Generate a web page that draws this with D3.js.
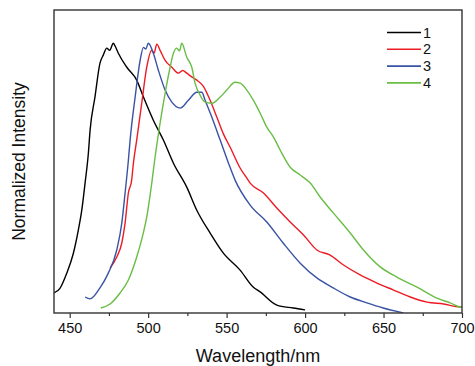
<!DOCTYPE html>
<html>
<head>
<meta charset="utf-8">
<script src="https://cdn.jsdelivr.net/npm/d3@7"></script>
<style>
  body { margin: 0; background: #fff; }
  svg { font-family: "Liberation Sans", Arial, sans-serif; }
</style>
</head>
<body>
<svg id="chart" width="475" height="366"></svg>
<script>
// wavelength (nm), normalized intensity
const series1 = [[440,0.067],[443.8,0.084],[448.1,0.14],[452.3,0.214],[455.5,0.301],[457.7,0.375],[459.8,0.476],[461.9,0.587],[463,0.673],[466.1,0.796],[469.3,0.922],[471.4,0.952],[473.6,0.978],[475.5,0.97],[477.8,0.996],[479,0.985],[481,0.959],[486.4,0.907],[492.7,0.859],[497,0.796],[503.3,0.71],[509.7,0.636],[516.1,0.55],[524.6,0.461],[531,0.375],[539.5,0.29],[547.8,0.216],[558.6,0.152],[566.9,0.089],[571.4,0.071],[582,0.022],[592.4,0.011],[600,0.004]];
const series2 = [[475.7,0.16],[480,0.201],[483.2,0.253],[485.3,0.327],[487.4,0.439],[489.5,0.487],[490.6,0.55],[492.7,0.636],[495.9,0.773],[499.1,0.907],[502.3,0.97],[503.8,0.96],[505.5,0.993],[507.6,0.97],[510.8,0.933],[515.1,0.907],[519.3,0.885],[522,0.895],[524.6,0.885],[528,0.87],[531,0.859],[535.2,0.836],[539.5,0.784],[543.8,0.721],[548,0.658],[552.2,0.61],[558.6,0.532],[562.9,0.494],[565,0.476],[573.5,0.439],[582,0.383],[590.5,0.331],[599,0.283],[607.5,0.227],[616,0.208],[624.5,0.171],[635.1,0.134],[645.8,0.104],[656.4,0.078],[667,0.052],[677.7,0.033],[688.3,0.026],[698.9,0.015],[700,0.016]];
const series3 = [[459.8,0.052],[463,0.045],[469.3,0.086],[474.6,0.141],[480,0.227],[483.2,0.327],[485.3,0.439],[487.4,0.561],[488.5,0.636],[491.7,0.796],[494.9,0.933],[497,0.981],[498.5,0.975],[500.1,0.996],[503.3,0.959],[506.5,0.896],[510.8,0.822],[515.1,0.777],[520.4,0.755],[525.6,0.784],[531,0.814],[534.2,0.814],[536.3,0.784],[540.6,0.721],[545.9,0.636],[551.2,0.55],[555.4,0.487],[565,0.394],[575.6,0.331],[586,0.253],[596.9,0.178],[607.5,0.123],[617.9,0.086],[628.8,0.052],[639.4,0.03],[649.8,0.011],[662.6,-0.007]];
const series4 = [[469.8,0.011],[475.7,0.026],[482.1,0.067],[487.4,0.115],[492.7,0.201],[496.9,0.29],[499.1,0.349],[502.3,0.476],[504.4,0.572],[507.6,0.699],[510.8,0.81],[514,0.907],[516.1,0.959],[518.2,0.978],[520,0.968],[521.4,0.996],[524.6,0.944],[527.8,0.907],[529.9,0.848],[533.1,0.803],[536.3,0.777],[540.6,0.773],[545.9,0.796],[550.1,0.822],[555.4,0.851],[558.6,0.848],[562.9,0.822],[567.1,0.784],[571.4,0.736],[575.6,0.684],[579.9,0.647],[584.1,0.599],[590.5,0.535],[596.9,0.506],[603.3,0.476],[609.6,0.424],[618.1,0.364],[628.8,0.29],[637.2,0.227],[647.9,0.164],[658.5,0.126],[671.3,0.089],[684,0.048],[692.5,0.03],[698.9,0.015],[700,0.014]];

const seriesNames = ["1", "2", "3", "4"];
const seriesData = [series1, series2, series3, series4];
const colors = ["#000000", "#ed1c24", "#3953a4", "#6abd45"];
const xTicks = [450, 500, 550, 600, 650, 700];
const xMinorTicks = [475, 525, 575, 625, 675];

const margin = {left: 54, top: 10, right: 13, bottom: 53};
const width = 475, height = 366;

const svg = d3.select('#chart');

const x = d3.scaleLinear()
  .domain([440, 700])
  .range([margin.left, width - margin.right]);

const y = d3.scaleLinear()
  .domain([-0.0075, 1.12])
  .range([height - margin.bottom, margin.top]);

svg.append('clipPath').attr('id', 'plot-clip')
  .append('rect')
  .attr('x', margin.left).attr('y', margin.top)
  .attr('width', x.range()[1] - margin.left)
  .attr('height', y.range()[0] - margin.top);

const line = d3.line()
  .curve(d3.curveMonotoneX)
  .x(d => x(d[0]))
  .y(d => y(d[1]));

// curves
svg.append('g')
  .attr('clip-path', 'url(#plot-clip)')
  .selectAll('path')
  .data(seriesData)
  .enter().append('path')
  .attr('fill', 'none')
  .attr('stroke', (d, i) => colors[i])
  .attr('stroke-width', 1.4)
  .attr('stroke-linejoin', 'round')
  .attr('d', line);

// frame
svg.append('rect')
  .attr('x', margin.left).attr('y', margin.top)
  .attr('width', x.range()[1] - margin.left)
  .attr('height', y.range()[0] - margin.top)
  .attr('fill', 'none')
  .attr('stroke', '#333')
  .attr('stroke-width', 1.4);

// x axis
const xAxis = svg.append('g')
  .attr('transform', `translate(0,${y.range()[0]})`)
  .call(d3.axisBottom(x).tickValues(xTicks).tickSize(5).tickPadding(5).tickFormat(d3.format('d')));
xAxis.select('.domain').remove();
xAxis.selectAll('.tick line').attr('stroke', '#333').attr('stroke-width', 1.2);
xAxis.selectAll('.tick text').attr('font-size', 14.5).attr('fill', '#111')
  .attr('font-family', '"Liberation Sans", Arial, sans-serif');

const xMinor = svg.append('g')
  .attr('transform', `translate(0,${y.range()[0]})`)
  .call(d3.axisBottom(x).tickValues(xMinorTicks).tickSize(3).tickFormat(''));
xMinor.select('.domain').remove();
xMinor.selectAll('.tick line').attr('stroke', '#333').attr('stroke-width', 1.2);

// axis titles
svg.append('text')
  .attr('x', (x.range()[0] + x.range()[1]) / 2)
  .attr('y', 362)
  .attr('text-anchor', 'middle')
  .attr('font-size', 18)
  .attr('fill', '#111')
  .text('Wavelength/nm');

svg.append('text')
  .attr('transform', `translate(25,${(y.range()[0] + y.range()[1]) / 2}) rotate(-90)`)
  .attr('text-anchor', 'middle')
  .attr('font-size', 17.5)
  .attr('fill', '#111')
  .text('Normalized Intensity');

// legend
const legend = svg.append('g')
  .selectAll('g')
  .data(seriesNames)
  .enter().append('g')
  .attr('transform', (d, i) => `translate(387,${32.5 + i * 16.8})`);

legend.append('line')
  .attr('x1', 0).attr('x2', 34)
  .attr('stroke', (d, i) => colors[i])
  .attr('stroke-width', 1.6);

legend.append('text')
  .attr('x', 36).attr('y', 5)
  .attr('font-size', 14.5)
  .attr('fill', '#111')
  .text(d => d);
</script>
</body>
</html>
